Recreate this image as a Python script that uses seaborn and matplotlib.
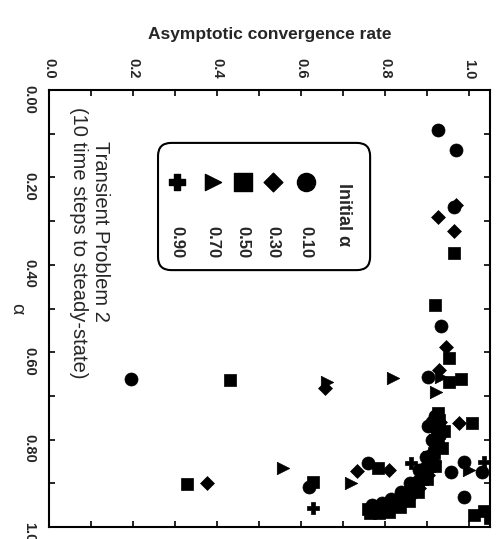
import numpy as np
import pandas as pd
import matplotlib
matplotlib.use('Agg')
import matplotlib.pyplot as plt
from matplotlib.patches import FancyBboxPatch
from matplotlib.ticker import MultipleLocator, FormatStrFormatter
import seaborn as sns

# initial alpha = 0.10 (circles)
alpha_010 = [0.092, 0.138, 0.268, 0.541, 0.656, 0.661, 0.768, 0.853, 0.908, 0.851, 0.874, 0.874, 0.931,
             0.745, 0.775, 0.805, 0.835, 0.865, 0.895, 0.920, 0.940, 0.955, 0.962,
             0.760, 0.800, 0.840, 0.870, 0.900, 0.920, 0.935, 0.945, 0.950]
rate_010 = [0.927, 0.968, 0.963, 0.934, 0.903, 0.196, 0.903, 0.759, 0.620, 0.987, 0.958, 1.030, 0.989,
            0.918, 0.921, 0.918, 0.909, 0.896, 0.878, 0.855, 0.822, 0.785, 0.765,
            0.912, 0.912, 0.898, 0.882, 0.860, 0.838, 0.815, 0.793, 0.770]

# initial alpha = 0.30 (diamonds)
alpha_030 = [0.264, 0.291, 0.323, 0.587, 0.640, 0.681, 0.872, 0.899, 0.869, 0.761,
             0.760, 0.790, 0.820, 0.850, 0.880, 0.910, 0.930, 0.946, 0.956]
rate_030 = [0.970, 0.925, 0.963, 0.944, 0.929, 0.656, 0.733, 0.376, 0.810, 0.977,
            0.932, 0.933, 0.926, 0.916, 0.902, 0.882, 0.860, 0.832, 0.800]

# initial alpha = 0.50 (squares)
alpha_050 = [0.372, 0.491, 0.612, 0.661, 0.667, 0.663, 0.901, 0.897, 0.865, 0.761, 0.972, 0.979, 0.962,
             0.740, 0.755, 0.770, 0.785, 0.800, 0.815, 0.830, 0.845, 0.860, 0.875, 0.890, 0.905,
             0.918, 0.930, 0.940, 0.948, 0.953, 0.957, 0.958,
             0.780, 0.820, 0.860, 0.890, 0.920, 0.940, 0.955, 0.965, 0.968, 0.968]
rate_050 = [0.963, 0.920, 0.953, 0.982, 0.953, 0.431, 0.328, 0.628, 0.784, 1.006, 1.012, 1.049, 1.035,
            0.925, 0.928, 0.929, 0.928, 0.926, 0.922, 0.917, 0.911, 0.905, 0.897, 0.889, 0.877,
            0.864, 0.848, 0.830, 0.812, 0.793, 0.775, 0.760,
            0.940, 0.935, 0.918, 0.900, 0.878, 0.857, 0.835, 0.810, 0.785, 0.765]

# initial alpha = 0.70 (triangles)
alpha_070 = [0.658, 0.656, 0.690, 0.667, 0.865, 0.899, 0.869,
             0.800, 0.840, 0.880, 0.915, 0.940, 0.955]
rate_070 = [0.819, 0.934, 0.922, 0.661, 0.558, 0.719, 1.000,
            0.920, 0.905, 0.890, 0.870, 0.840, 0.810]

# initial alpha = 0.90 (plus)
alpha_090 = [0.956, 0.853, 0.851, 0.966, 0.920, 0.950]
rate_090 = [0.628, 0.862, 1.035, 1.042, 0.850, 0.790]

labels = ['0.10', '0.30', '0.50', '0.70', '0.90']
markers = ['o', 'D', 's', '>', 'P']
sizes = [88, 50, 80, 80, 80]
leg_sizes = [170, 90, 150, 135, 140]

df = pd.concat([
    pd.DataFrame({'alpha': alpha_010, 'rate': rate_010, 'initial': '0.10'}),
    pd.DataFrame({'alpha': alpha_030, 'rate': rate_030, 'initial': '0.30'}),
    pd.DataFrame({'alpha': alpha_050, 'rate': rate_050, 'initial': '0.50'}),
    pd.DataFrame({'alpha': alpha_070, 'rate': rate_070, 'initial': '0.70'}),
    pd.DataFrame({'alpha': alpha_090, 'rate': rate_090, 'initial': '0.90'}),
])

sns.set_style('white')
plt.rcParams['font.family'] = ['Liberation Sans', 'DejaVu Sans']

fig = plt.figure(figsize=(4.96, 5.39), dpi=100)
ax = fig.add_axes([0.099, 0.022, 0.889, 0.811])

# figure is shown turned 90 degrees: rate runs along the top, alpha down the left side
for lab, mk, sz in zip(labels, markers, sizes):
    sns.scatterplot(data=df[df['initial'] == lab], x='rate', y='alpha', marker=mk, s=sz,
                    color='black', edgecolor='black', linewidth=0.5, ax=ax, legend=False)

ax.set_xlim(0, 1.05)
ax.set_ylim(1.0, 0.0)
ax.xaxis.set_major_locator(MultipleLocator(0.2))
ax.xaxis.set_minor_locator(MultipleLocator(0.1))
ax.yaxis.set_major_locator(MultipleLocator(0.2))
ax.yaxis.set_minor_locator(MultipleLocator(0.1))
ax.xaxis.set_major_formatter(FormatStrFormatter('%.1f'))
ax.yaxis.set_major_formatter(FormatStrFormatter('%.2f'))
ax.xaxis.set_ticks_position('both')
ax.yaxis.set_ticks_position('both')
ax.xaxis.set_label_position('top')
ax.tick_params(axis='x', which='both', labeltop=True, labelbottom=False)
ax.tick_params(which='both', direction='in', length=4, width=1.2, color='black')
ax.tick_params(axis='x', labelsize=10.5, pad=8, labelrotation=-90)
ax.tick_params(axis='y', labelsize=10.5, pad=9, labelrotation=-90)
for t in ax.get_xticklabels() + ax.get_yticklabels():
    t.set_fontweight('bold')
for sp in ax.spines.values():
    sp.set_color('black')
    sp.set_linewidth(1.5)

ax.set_xlabel('Asymptotic convergence rate', fontsize=12.5, fontweight='bold', labelpad=14)
ax.set_ylabel('α', fontsize=14, rotation=-90, labelpad=4, va='center')

ax.text(0.116, 0.677, 'Transient Problem 2', transform=ax.transAxes, rotation=-90,
        ha='center', va='center', fontsize=14.5)
ax.text(0.066, 0.650, '(10 time steps to steady-state)', transform=ax.transAxes, rotation=-90,
        ha='center', va='center', fontsize=14.5)

# rounded legend box
box = FancyBboxPatch((0.247, 0.588), 0.481, 0.291, boxstyle='round,pad=0,rounding_size=0.03',
                     transform=ax.transAxes, facecolor='white', edgecolor='black', linewidth=1.5,
                     zorder=5)
ax.add_patch(box)
ax.text(0.667, 0.714, 'Initial α', transform=ax.transAxes, rotation=-90, ha='center', va='center',
        fontsize=13, fontweight='bold', zorder=6)
leg_x = [0.583, 0.508, 0.440, 0.372, 0.290]
for lx, lab, mk, sz in zip(leg_x, labels, markers, leg_sizes):
    ax.scatter([lx], [0.789], marker=mk, s=sz, color='black', transform=ax.transAxes, zorder=6,
               clip_on=False)
    ax.text(lx, 0.652, lab, transform=ax.transAxes, rotation=-90, ha='center', va='center',
            fontsize=12, fontweight='bold', zorder=6)

fig.savefig('out.png', dpi=100)
